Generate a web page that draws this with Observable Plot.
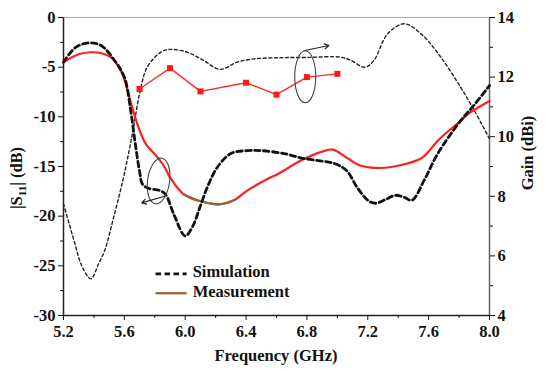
<!DOCTYPE html>
<html><head><meta charset="utf-8">
<script src="https://cdn.jsdelivr.net/npm/d3@7"></script>
<script src="https://cdn.jsdelivr.net/npm/@observablehq/plot@0.6"></script>
<style>
body{margin:0;background:#fff}
#chart svg, #chart svg text, #chart svg tspan { font-family: "Liberation Serif", "Times New Roman", serif !important; font-weight: bold !important; }
</style>
</head><body><div id="chart"></div>
<script>
// Simulated |S11| (dB)
const simS11Freq = [5.20,5.28,5.37,5.45,5.53,5.60,5.64,5.67,5.70,5.72,5.76,5.83,5.87,5.93,6.00,6.05,6.09,6.145,6.21,6.30,6.41,6.50,6.65,6.78,6.98,7.06,7.13,7.20,7.25,7.32,7.38,7.44,7.49,7.57,7.66,7.81,7.90,8.00];
const simS11 =     [-4.5,-3.0,-2.55,-2.85,-4.2,-6.0,-9.2,-12.5,-15.5,-16.8,-17.2,-17.4,-17.8,-20.0,-22.0,-21.0,-19.4,-17.1,-15.1,-13.7,-13.4,-13.4,-13.7,-14.2,-14.7,-15.4,-17.1,-18.4,-18.7,-18.3,-17.9,-18.1,-18.4,-16.4,-13.7,-10.4,-8.8,-6.85];
// Measured |S11| (dB)
const measS11Freq = [5.20,5.30,5.38,5.45,5.51,5.555,5.59,5.64,5.685,5.74,5.82,5.87,5.90,5.99,6.10,6.23,6.32,6.41,6.54,6.61,6.76,6.90,6.97,7.07,7.15,7.285,7.42,7.55,7.60,7.66,7.81,7.86,8.00];
const measS11 =     [-4.5,-3.7,-3.5,-3.6,-4.0,-4.8,-5.8,-8.4,-10.7,-12.7,-14.1,-15.2,-16.1,-17.8,-18.5,-18.8,-18.4,-17.4,-16.25,-15.75,-14.4,-13.5,-13.3,-14.2,-14.9,-15.15,-14.85,-14.2,-13.5,-12.4,-10.4,-9.7,-8.4];
// Simulated gain (dBi)
const simGainFreq = [5.20,5.27,5.32,5.38,5.43,5.47,5.53,5.59,5.63,5.66,5.70,5.75,5.84,5.90,6.01,6.12,6.23,6.34,6.45,6.61,6.80,7.02,7.09,7.18,7.24,7.33,7.44,7.55,7.68,7.81,7.90,8.00];
const simGain =     [7.75,6.5,5.67,5.23,5.73,6.17,7.3,8.53,9.5,10.3,11.44,12.33,12.84,12.93,12.84,12.56,12.26,12.5,12.61,12.65,12.66,12.67,12.56,12.33,12.56,13.45,13.79,13.45,12.67,11.66,10.88,9.93];
// Measured gain (dBi)
const measGainFreq = [5.7,5.9,6.1,6.4,6.6,6.8,7.0];
const measGain =     [11.6,12.3,11.52,11.81,11.41,12.0,12.11];

const xTicks = [5.2,5.6,6.0,6.4,6.8,7.2,7.6,8.0];
const xMinor = [5.4,5.8,6.2,6.6,7.0,7.4,7.8];
const yTicks = [0,-5,-10,-15,-20,-25,-30];
const yMinor = [-2.5,-7.5,-12.5,-17.5,-22.5,-27.5];
const gainTicks = [4,6,8,10,12,14];
const gainMinor = [5,7,9,11,13];
const legendLabels = ["Simulation","Measurement"];

const toL = g => (g - 4) * 3 - 30;
const sim = simS11Freq.map((f,i)=>({f, v: simS11[i]}));
const meas = measS11Freq.map((f,i)=>({f, v: measS11[i]}));
const simG = simGainFreq.map((f,i)=>({f, g: simGain[i]}));
const measG = measGainFreq.map((f,i)=>({f, g: measGain[i]}));

// annotation placement (data units)
const ellipses = [{f:5.825, v:-16.46, rx:11, ry:23, rot:8},{f:6.789, v:-5.97, rx:10.5, ry:26, rot:0}];
const arrows = [{x1:5.865,y1:-18.0,x2:5.714,y2:-18.66},{x1:6.786,y1:-3.32,x2:6.945,y2:-2.82}];
const legendPos = [{x1:5.805,x2:6.009,y:-25.8,tx:6.049,ty:-25.6},{x1:5.805,x2:6.009,y:-27.76,tx:6.049,ty:-27.56}];

function ellipseSymbol(rx, ry) {
  const k = 0.5523;
  return { draw(ctx) {
    ctx.moveTo(rx, 0);
    ctx.bezierCurveTo(rx, ry*k, rx*k, ry, 0, ry);
    ctx.bezierCurveTo(-rx*k, ry, -rx, ry*k, -rx, 0);
    ctx.bezierCurveTo(-rx, -ry*k, -rx*k, -ry, 0, -ry);
    ctx.bezierCurveTo(rx*k, -ry, rx, -ry*k, rx, 0);
    ctx.closePath();
  }};
}

const chart = Plot.plot({
  width: 550, height: 371,
  marginLeft: 63, marginRight: 61, marginTop: 17, marginBottom: 56,
  style: {fontFamily: "Liberation Serif", fontWeight: "bold", fontSize: "16.5px", color: "#111", background: "#fff", overflow: "visible"},
  x: {domain: [5.2, 8.0]},
  y: {domain: [-30, 0]},
  marks: [
    Plot.ruleY([0], {stroke: "#aaa", strokeWidth: 1}),
    Plot.ruleX([8.0], {stroke: "#666", strokeWidth: 1.5}),
    Plot.ruleX([5.2], {stroke: "#222", strokeWidth: 1.5}),
    Plot.ruleY([-30], {stroke: "#222", strokeWidth: 1.5}),
    Plot.axisX({ticks: xTicks, tickSize: 5, tickPadding: 5, tickFormat: d3.format(".1f"), label: null}),
    Plot.axisX({ticks: xMinor, tickSize: 3, tickFormat: () => "", label: null}),
    Plot.axisY({ticks: yTicks, tickSize: 5, tickPadding: 3, tickFormat: d => d === 0 ? "0" : String(d), label: null}),
    Plot.axisY({ticks: yMinor, tickSize: 3, tickFormat: () => "", label: null}),
    Plot.axisY({anchor: "right", ticks: gainTicks.map(toL), tickSize: 5, tickPadding: 3, tickFormat: v => String(Math.round(v/3 + 14)), label: null}),
    Plot.axisY({anchor: "right", ticks: gainMinor.map(toL), tickSize: 3, tickFormat: () => "", label: null}),
    // simulated gain (thin dotted)
    Plot.line(simG, {x: "f", y: d => toL(d.g), curve: "catmull-rom", stroke: "#222", strokeWidth: 1.4, strokeDasharray: "3,2.6"}),
    // measured gain
    Plot.line(measG, {x: "f", y: d => toL(d.g), stroke: "#ff2a2a", strokeWidth: 1.4}),
    Plot.dot(measG, {x: "f", y: d => toL(d.g), symbol: "square", r: 3.4, fill: "#ff1a1a", stroke: "none"}),
    // measured S11
    Plot.line(meas, {x: "f", y: "v", curve: "catmull-rom", stroke: "#ff1f1f", strokeWidth: 2.2}),
    Plot.line(meas, {filter: d => d.f >= 5.96 && d.f <= 6.38, x: "f", y: "v", curve: "catmull-rom", stroke: "#8c6a35", strokeWidth: 2.2}),
    // simulated S11 (thick dashed)
    Plot.line(sim, {x: "f", y: "v", curve: "catmull-rom", stroke: "#111", strokeWidth: 2.8, strokeDasharray: "5.5,3.5"}),
    // annotations
    ...ellipses.map(e => Plot.dot([e], {x: "f", y: "v", symbol: ellipseSymbol(e.rx, e.ry), rotate: e.rot, stroke: "#444", strokeWidth: 1.1, fill: "none"})),
    Plot.arrow(arrows, {x1: "x1", y1: "y1", x2: "x2", y2: "y2", stroke: "#222", strokeWidth: 1.1, headLength: 7}),
    // legend
    Plot.link([legendPos[0]], {x1: "x1", x2: "x2", y1: "y", y2: "y", stroke: "#111", strokeWidth: 2.8, strokeDasharray: "5.5,3.5"}),
    Plot.link([legendPos[1]], {x1: "x1", x2: "x2", y1: "y", y2: "y", stroke: "#9a5a2a", strokeWidth: 2.2}),
    Plot.text(legendPos, {x: "tx", y: "ty", text: (d,i) => legendLabels[i], textAnchor: "start", fill: "#111"})
  ]
});

const svg = d3.select(chart);
svg.append("text")
  .attr("x", 276).attr("y", 361).attr("text-anchor", "middle")
  .attr("fill", "#111").text("Frequency (GHz)");
const lt = svg.append("text")
  .attr("transform", "translate(22,178) rotate(-90)").attr("text-anchor", "middle").attr("fill", "#111");
lt.append("tspan").text("|S");
lt.append("tspan").attr("dy", 4).attr("font-size", "11px").text("11");
lt.append("tspan").attr("dy", -4).text("| (dB)");
svg.append("text")
  .attr("transform", "translate(533,153) rotate(-90)").attr("text-anchor", "middle")
  .attr("fill", "#111").text("Gain (dBi)");

document.getElementById("chart").appendChild(chart);
</script>
</body></html>
